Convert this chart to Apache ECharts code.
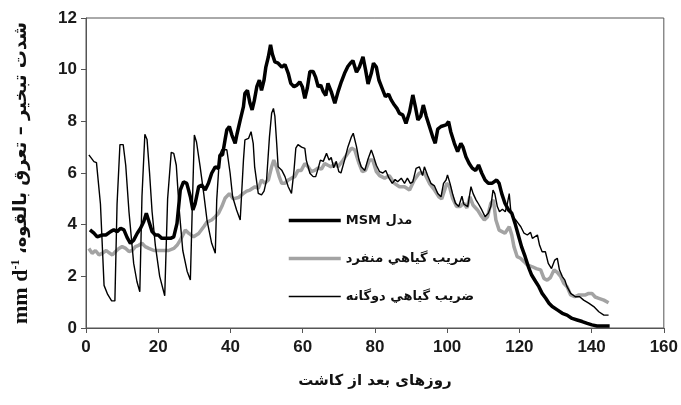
<!DOCTYPE html>
<html><head><meta charset="utf-8">
<script src="https://cdn.jsdelivr.net/npm/echarts@6/dist/echarts.min.js"></script>
<style>html,body{margin:0;padding:0;background:#fff}#c{width:681px;height:405px}</style>
</head><body><div id="c"></div>
<script>
// Names
const nameMSM = 'MSM مدل';
const nameSingle = 'ضريب گياهي منفرد';
const nameDual = 'ضريب گياهي دوگانه';
const xTitle = 'روزهای بعد از کاشت';
const yTitleFa = 'شدت تبخير – تعرق بالقوه،\u200F';

// MSM model
const msmDays = [1.1,2.2,3.1,4.5,5.5,6.8,7.7,8.6,9.6,10.5,11.4,12.3,13.2,14.2,15.1,16.0,16.7,17.3,18.3,19.2,20.0,21.0,22.2,23.4,24.3,25.2,26.1,27.0,27.9,28.9,29.6,30.2,31.2,32.1,33.0,33.9,34.8,35.8,36.7,37.1,37.8,38.5,39.0,39.7,40.4,41.3,41.8,42.7,43.6,44.0,44.7,45.4,46.0,46.6,47.3,48.0,48.6,49.3,49.8,50.5,51.1,51.6,52.3,53.2,54.2,55.1,56.0,56.7,57.6,58.4,59.2,59.9,60.6,61.3,62.0,62.9,63.6,64.3,65.0,65.7,66.4,67.0,67.9,68.9,69.8,70.7,71.6,72.5,73.2,73.9,74.9,75.7,76.7,77.4,78.1,79.0,79.6,80.4,81.1,82.0,82.9,83.8,84.5,85.4,86.1,86.8,87.7,88.6,89.6,90.5,91.2,91.9,92.7,93.4,94.2,95.1,96.0,96.7,97.4,98.3,99.7,100.4,101.0,102.0,102.9,103.8,104.4,105.2,106.1,107.0,107.9,108.7,109.6,110.5,111.4,112.4,113.7,114.4,115.1,116.0,117.0,117.9,118.8,119.7,120.6,121.6,122.5,123.4,124.5,125.4,126.3,127.3,128.2,129.1,130.5,131.9,133.2,134.6,136.0,137.4,138.8,140.1,141.5,145.0];
const msmVals = [3.8,3.67,3.53,3.6,3.6,3.73,3.8,3.73,3.86,3.8,3.5,3.28,3.4,3.67,3.86,4.12,4.44,4.18,3.73,3.6,3.6,3.47,3.47,3.47,3.53,4.05,5.34,5.66,5.6,5.08,4.57,4.8,5.47,5.53,5.34,5.6,5.99,6.24,6.18,6.7,6.7,7.28,7.67,7.8,7.47,7.15,7.5,8.05,8.57,9.08,9.2,8.7,8.44,8.8,9.34,9.6,9.2,9.6,10.1,10.5,10.96,10.6,10.3,10.25,10.1,10.2,9.86,9.47,9.34,9.4,9.53,9.34,8.89,9.3,9.93,9.93,9.7,9.34,9.4,9.15,9.0,9.47,9.15,8.7,9.15,9.53,9.86,10.12,10.25,10.35,9.9,10.1,10.5,10.0,9.45,9.86,10.25,10.1,9.6,9.28,8.96,9.05,8.83,8.63,8.5,8.31,8.25,7.92,8.37,9.02,8.57,8.05,8.2,8.63,8.2,7.8,7.4,7.15,7.7,7.8,7.86,7.99,7.6,7.15,6.83,7.15,7.0,6.63,6.37,6.18,6.1,6.31,5.99,5.73,5.6,5.6,5.73,5.6,5.21,4.83,4.57,4.44,4.05,3.6,3.15,2.76,2.37,2.05,1.8,1.6,1.34,1.15,0.96,0.83,0.7,0.57,0.5,0.37,0.31,0.25,0.18,0.12,0.08,0.08];

// Single crop coefficient
const singleDays = [0.8,1.7,2.6,3.6,4.6,5.6,6.5,7.3,8.2,9.1,10.0,11.0,11.9,12.8,13.7,14.6,15.5,16.4,17.4,18.8,20.1,21.5,22.9,24.3,25.2,26.1,27.5,28.5,29.8,31.2,32.6,33.5,34.8,35.7,36.7,37.6,38.5,39.7,40.8,42.2,43.6,44.5,45.4,46.8,47.7,48.6,49.5,50.5,51.4,52.0,52.8,53.5,54.2,55.1,56.0,56.9,57.8,58.7,59.6,60.6,61.5,62.4,63.3,64.3,65.2,66.1,67.0,67.9,68.9,69.8,71.2,72.5,73.5,74.4,75.6,76.5,77.4,78.5,79.4,80.4,81.3,82.7,84.0,85.4,86.8,88.2,89.6,90.9,92.3,93.7,95.1,96.5,97.7,98.5,99.9,100.6,101.5,102.6,103.6,104.6,105.5,106.3,107.2,108.4,109.3,110.3,111.2,112.1,112.8,113.5,114.4,115.2,116.0,117.2,117.9,118.5,119.4,120.3,121.3,122.2,123.6,124.7,125.9,126.8,127.7,128.6,129.6,130.5,131.4,132.3,133.2,134.2,135.3,136.5,137.4,138.3,139.2,140.1,141.0,142.0,143.4,144.7];
const singleVals = [3.08,2.89,3.0,2.83,2.9,3.0,2.9,2.83,2.96,3.08,3.15,3.08,2.96,3.0,3.15,3.2,3.28,3.15,3.08,3.0,3.0,3.0,3.0,3.08,3.2,3.4,3.79,3.66,3.53,3.66,3.92,4.1,4.18,4.3,4.44,4.7,5.02,5.2,5.0,5.05,5.21,5.3,5.34,5.47,5.4,5.73,5.6,5.73,6.24,6.5,6.2,5.86,5.6,5.6,5.73,5.8,5.86,6.1,6.1,6.37,6.24,6.05,6.1,6.2,6.15,6.37,6.3,6.24,6.37,6.24,6.5,6.76,6.96,6.9,6.37,6.05,6.1,6.5,6.5,6.05,5.9,5.8,5.9,5.6,5.47,5.47,5.34,5.73,6.0,6.0,5.6,5.34,5.08,5.0,5.6,5.5,5.02,4.7,4.7,4.83,4.65,5.08,4.75,4.57,4.37,4.18,4.31,4.83,4.96,4.18,3.79,3.73,3.67,3.92,3.6,3.15,2.76,2.7,2.57,2.44,2.37,2.3,2.25,1.92,1.85,1.95,2.25,2.15,2.0,1.73,1.6,1.28,1.21,1.28,1.28,1.28,1.34,1.34,1.2,1.15,1.08,0.98];

// Dual crop coefficient
const dualDays = [0.8,2.2,2.9,4.0,5.0,6.0,7.1,8.0,8.6,9.4,10.3,11.0,11.9,13.2,14.1,14.9,15.5,16.3,16.9,17.6,18.3,19.2,20.4,21.8,22.6,23.6,24.3,25.0,25.8,26.8,28.0,28.9,29.4,30.0,30.6,31.6,32.6,33.5,34.8,35.8,36.2,37.0,37.6,39.0,39.9,40.6,41.7,42.7,43.1,43.6,44.0,45.0,45.7,46.3,46.7,47.7,48.6,49.3,50.0,50.8,51.4,51.9,52.3,52.8,53.2,54.2,55.1,56.0,56.9,57.6,58.1,58.7,59.7,60.6,61.0,62.0,62.9,63.6,64.3,64.9,65.7,66.6,67.3,67.9,68.6,69.3,70.0,70.6,71.6,72.5,73.5,74.0,74.9,75.6,76.2,77.2,78.0,79.0,79.5,80.4,81.3,82.2,83.0,83.9,84.8,85.6,86.3,87.3,88.2,89.0,89.8,90.5,91.4,92.3,93.2,93.7,94.6,95.5,96.5,97.4,98.3,99.0,99.7,100.1,100.8,101.5,102.3,103.2,104.1,104.6,105.7,106.6,107.2,108.0,108.7,109.6,110.5,111.4,112.1,112.7,113.2,113.9,114.5,115.3,116.1,116.7,117.2,117.6,118.2,119.0,119.7,120.4,121.3,122.2,123.1,123.6,125.0,125.6,126.3,127.2,128.0,128.9,129.8,130.5,131.1,131.9,132.6,133.2,134.2,135.5,136.7,137.8,139.2,140.6,142.0,143.4,144.7];
const dualVals = [6.7,6.44,6.4,4.8,1.65,1.3,1.05,1.05,4.8,7.1,7.1,6.3,4.5,2.5,1.8,1.4,5.1,7.5,7.3,6.0,4.5,3.2,2.0,1.25,5.0,6.8,6.76,6.3,4.6,3.0,2.2,1.86,4.5,7.47,7.2,6.25,5.2,4.18,3.28,2.89,4.96,6.7,6.9,6.9,6.0,5.08,4.57,4.18,4.2,6.5,7.28,7.34,7.6,7.15,6.24,5.21,5.15,5.3,5.73,7.4,8.31,8.5,8.2,7.15,6.24,6.11,5.86,5.47,5.21,6.1,6.96,7.1,7.0,6.95,6.5,5.99,5.86,5.86,6.18,6.5,6.45,6.76,6.5,6.6,6.2,6.45,6.05,6.0,6.5,7.0,7.4,7.54,7.02,6.5,6.24,6.1,6.5,6.89,6.7,6.3,6.05,6.0,6.1,5.8,5.6,5.75,5.66,5.8,5.6,5.8,5.6,5.66,6.18,6.24,5.9,6.24,5.9,5.6,5.5,5.21,5.08,5.6,5.73,5.92,5.6,5.2,4.83,4.7,5.1,4.8,4.7,5.47,5.2,4.96,4.8,4.57,4.31,4.44,4.7,5.34,5.2,4.7,4.5,4.6,4.5,4.83,5.2,4.57,4.3,4.18,4.05,3.92,3.67,3.6,3.7,3.47,3.6,3.2,2.95,2.95,2.5,2.3,2.63,2.7,2.25,1.99,1.85,1.6,1.34,1.21,1.21,1.08,0.96,0.83,0.63,0.5,0.5];

// Axis ticks
const xTicks = {min: 0, max: 160, interval: 20};
const yTicks = {min: 0, max: 12, interval: 2};

const pairs = (d, v) => d.map((x, i) => [x, v[i]]);

const styles = {
  msm: {color: '#000', width: 3.5},
  single: {color: '#a3a3a3', width: 3.5},
  dual: {color: '#000', width: 1.4}
};

const chart = echarts.init(document.getElementById('c'), null, {renderer: 'canvas'});
const axisCol = '#555';
const labelFont = {fontFamily: 'Liberation Sans, Arial', fontWeight: 'bold', fontSize: 17, color: '#1a1a1a'};
chart.setOption({
  backgroundColor: '#ffffff',
  animation: false,
  grid: {left: 86, right: 15, top: 18, bottom: 77, show: true, borderColor: axisCol, borderWidth: 1, backgroundColor: 'transparent'},
  legend: {
    orient: 'vertical', left: 282, top: 209, itemWidth: 52, itemHeight: 14, itemGap: 25,
    data: [
      {name: nameMSM, lineStyle: styles.msm},
      {name: nameSingle, lineStyle: styles.single},
      {name: nameDual, lineStyle: styles.dual}
    ],
    itemStyle: {opacity: 0, borderWidth: 0},
    textStyle: {fontFamily: 'DejaVu Sans', fontWeight: 'bold', fontSize: 13, color: '#111'}
  },
  xAxis: {
    type: 'value', min: xTicks.min, max: xTicks.max, interval: xTicks.interval,
    name: xTitle, nameLocation: 'middle', nameGap: 46,
    nameTextStyle: {fontFamily: 'DejaVu Sans', fontWeight: 'bold', fontSize: 15, color: '#111'},
    axisLine: {lineStyle: {color: axisCol, width: 1}},
    axisTick: {show: true, length: 5, lineStyle: {color: axisCol}},
    axisLabel: Object.assign({margin: 11}, labelFont),
    splitLine: {show: false}
  },
  yAxis: {
    type: 'value', min: yTicks.min, max: yTicks.max, interval: yTicks.interval,
    axisLine: {show: true, lineStyle: {color: axisCol, width: 1}},
    axisTick: {show: true, length: 5, lineStyle: {color: axisCol}},
    axisLabel: Object.assign({margin: 9}, labelFont),
    splitLine: {show: false}
  },
  graphic: [{
    type: 'text', x: 21, y: 173, rotation: Math.PI / 2,
    style: {
      text: '{m|mm d}{s|-1}{m| }{p|' + yTitleFa + '}',
      align: 'center', verticalAlign: 'middle',
      rich: {
        m: {fontFamily: 'Liberation Serif, Times New Roman', fontWeight: 'bold', fontSize: 22, fill: '#111'},
        s: {fontFamily: 'Liberation Serif', fontWeight: 'bold', fontSize: 12, fill: '#111', verticalAlign: 'top'},
        p: {fontFamily: 'DejaVu Sans', fontWeight: 'bold', fontSize: 18, fill: '#111'}
      }
    }
  }],
  series: [
    {name: nameSingle, type: 'line', data: pairs(singleDays, singleVals), showSymbol: false, symbol: 'none',
     lineStyle: styles.single, itemStyle: {color: styles.single.color}, z: 2},
    {name: nameDual, type: 'line', data: pairs(dualDays, dualVals), showSymbol: false, symbol: 'none',
     lineStyle: styles.dual, itemStyle: {color: styles.dual.color}, z: 3},
    {name: nameMSM, type: 'line', data: pairs(msmDays, msmVals), showSymbol: false, symbol: 'none',
     lineStyle: styles.msm, itemStyle: {color: styles.msm.color}, z: 4}
  ]
});
</script></body></html>
